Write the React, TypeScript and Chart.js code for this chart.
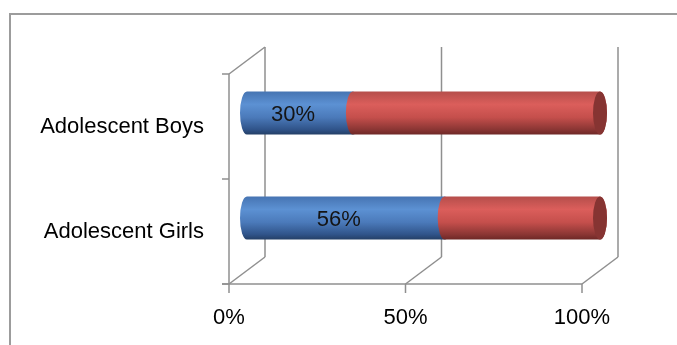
import React, { useEffect, useRef } from 'react';
import { Chart, registerables } from 'chart.js';

Chart.register(...registerables);

const categories = ['Adolescent Boys', 'Adolescent Girls'];
const yesValues = [30, 56];
const restValues = [70, 44];
const xTicks = [0, 50, 100];

const DX = 36;
const DY = -27;
const RX = 7;
const FONT = 'Liberation Sans';

const blueStops: [number, string][] = [
  [0, '#4674b2'], [0.3, '#5c91d3'], [0.6, '#4b7aba'], [0.88, '#30548a'], [1, '#243f66'],
];
const redStops: [number, string][] = [
  [0, '#b54e4b'], [0.3, '#db5e5b'], [0.6, '#c54f4c'], [0.88, '#8b3634'], [1, '#6e2826'],
];
const faceColor = '#863432';

function segPath(ctx: CanvasRenderingContext2D, xs: number, xe: number, cy: number, h: number) {
  const t = cy - h / 2;
  const b = cy + h / 2;
  ctx.beginPath();
  ctx.moveTo(xe, t);
  ctx.lineTo(xs, t);
  ctx.ellipse(xs, cy, RX, h / 2, 0, -Math.PI / 2, Math.PI / 2, true);
  ctx.lineTo(xe, b);
  ctx.ellipse(xe, cy, RX, h / 2, 0, Math.PI / 2, -Math.PI / 2, true);
  ctx.closePath();
}

const threeD = {
  id: 'threeD',
  beforeDatasetsDraw(chart: any) {
    const { ctx, chartArea, scales } = chart;
    const { left, right, top, bottom } = chartArea;
    const x = scales.x;
    const y = scales.y;
    ctx.save();
    ctx.strokeStyle = '#9c9c9c';
    ctx.lineWidth = 2;
    ctx.strokeRect(10, 14, 720, 420);
    ctx.strokeStyle = '#8f8f8f';
    ctx.lineWidth = 1.5;
    const line = (a: number, b: number, c: number, d: number) => {
      ctx.beginPath();
      ctx.moveTo(a, b);
      ctx.lineTo(c, d);
      ctx.stroke();
    };
    xTicks.forEach((v) => {
      const px = x.getPixelForValue(v);
      line(px + DX, top + DY, px + DX, bottom + DY);
      line(px, bottom, px + DX, bottom + DY);
      line(px, bottom, px, bottom + 9);
    });
    line(left - 7, bottom, right, bottom);
    line(left, top, left, bottom);
    line(left, top, left + DX, top + DY);
    for (let i = 0; i <= categories.length; i++) {
      const py = y.getPixelForValue(i - 0.5);
      line(left - 7, py, left, py);
    }
    ctx.restore();
  },
  afterDatasetsDraw(chart: any) {
    const { ctx } = chart;
    ctx.save();
    const nDs = chart.data.datasets.length;
    for (let di = 0; di < nDs; di++) {
      const meta = chart.getDatasetMeta(di);
      const stops = di === 0 ? blueStops : redStops;
      meta.data.forEach((bar: any) => {
        const p = bar.getProps(['x', 'base', 'y', 'height'], true);
        const xs = Math.min(p.x, p.base) + DX / 2;
        const xe = Math.max(p.x, p.base) + DX / 2;
        const cy = p.y + DY / 2;
        const h = p.height;
        const g = ctx.createLinearGradient(0, cy - h / 2, 0, cy + h / 2);
        stops.forEach(([o, c]) => g.addColorStop(o, c));
        segPath(ctx, xs, xe, cy, h);
        ctx.fillStyle = g;
        ctx.fill();
        if (di === nDs - 1) {
          ctx.beginPath();
          ctx.ellipse(xe, cy, RX, h / 2, 0, 0, Math.PI * 2);
          ctx.fillStyle = faceColor;
          ctx.fill();
        }
      });
    }
    // data labels for first series
    const meta0 = chart.getDatasetMeta(0);
    ctx.fillStyle = '#141414';
    ctx.font = `22px "${FONT}"`;
    ctx.textAlign = 'center';
    ctx.textBaseline = 'middle';
    meta0.data.forEach((bar: any, i: number) => {
      const p = bar.getProps(['x', 'base', 'y'], true);
      const cx = (p.x + p.base) / 2 + DX / 2 - 7;
      const cy = p.y + DY / 2 + 2;
      ctx.fillText(`${yesValues[i]}%`, cx, cy);
    });
    ctx.restore();
  },
};

export default function App() {
  const ref = useRef<HTMLCanvasElement>(null);
  useEffect(() => {
    if (!ref.current) return;
    const chart = new Chart(ref.current, {
      type: 'bar',
      data: {
        labels: categories,
        datasets: [
          { label: 'Yes', data: yesValues, backgroundColor: 'rgba(0,0,0,0)', borderWidth: 0 },
          { label: 'No', data: restValues, backgroundColor: 'rgba(0,0,0,0)', borderWidth: 0 },
        ],
      },
      options: {
        indexAxis: 'y',
        responsive: false,
        maintainAspectRatio: false,
        animation: false,
        layout: { padding: { top: 74, right: 95, left: 0, bottom: 0 } },
        datasets: { bar: { categoryPercentage: 1, barPercentage: 0.41 } },
        plugins: { legend: { display: false }, tooltip: { enabled: false } },
        scales: {
          x: {
            stacked: true,
            min: 0,
            max: 100,
            grid: { display: false, drawTicks: false },
            border: { display: false },
            ticks: {
              stepSize: 50,
              callback: (v: any) => `${v}%`,
              color: '#000',
              font: { family: FONT, size: 22 },
              padding: 21,
            },
            afterFit: (s: any) => { s.height = 61; },
          },
          y: {
            stacked: true,
            grid: { display: false, drawTicks: false },
            border: { display: false },
            ticks: {
              color: '#000',
              font: { family: FONT, size: 22 },
              padding: 25,
            },
            afterFit: (s: any) => { s.width = 229; },
          },
        },
      },
      plugins: [threeD],
    } as any);
    return () => chart.destroy();
  }, []);
  return (
    <div style={{ position: 'fixed', left: 0, top: 0, width: 677, height: 345, background: '#fff' }}>
      <canvas ref={ref} width={677} height={345} style={{ display: 'block' }} />
    </div>
  );
}
